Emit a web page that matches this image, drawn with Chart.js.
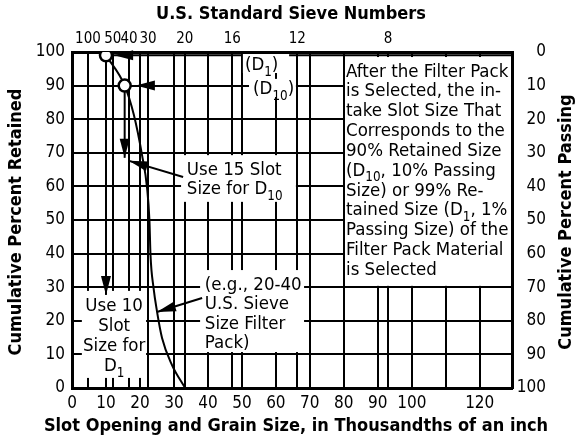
<!DOCTYPE html>
<html>
<head>
<meta charset="utf-8">
<script src="https://cdn.jsdelivr.net/npm/chart.js@4.4.1/dist/chart.umd.min.js"></script>
<style>
  html, body { margin: 0; padding: 0; background: #fff; }
</style>
</head>
<body>
<canvas id="chart" width="577" height="444"></canvas>
<script>
// filter pack grain size curve: slot / grain size (thousandths of an inch) vs cumulative % retained
const grainSize = [10, 15.5, 18.2, 20.6, 22.1, 22.8, 23.1, 24.0, 25.0, 26.5, 29.4, 33.3];
const pctRetained = [99, 90, 81.3, 69.4, 59.5, 49.7, 39.7, 29.8, 22.9, 14.9, 6.9, 0];
// D1 and D10 points on the curve
const markSize = [10, 15.5];
const markRetained = [99, 90];

// bottom axis (slot opening) labels and grid
const slotLabels = [0, 10, 20, 30, 40, 50, 60, 70, 80, 90, 100, 120];
const slotGrid = [0, 10, 20, 30, 40, 50, 60, 70, 80, 90, 100, 110, 120];
// top axis: U.S. standard sieve numbers at their openings
const sieveNumbers = ['100', '50', '40', '30', '20', '16', '12', '8'];
const sieveOpening = [4.7, 12, 16.8, 22.4, 33.2, 47.2, 66.3, 93];
// left = retained, right = passing
const retainedTicks = [0, 10, 20, 30, 40, 50, 60, 70, 80, 90, 100];
const passingTicks = [0, 10, 20, 30, 40, 50, 60, 70, 80, 90, 100];

const FONT = "'DejaVu Sans Condensed', 'DejaVu Sans', sans-serif";
const X_MAX = 129.5;
const xGrid = slotGrid.concat(sieveOpening).sort((a, b) => a - b);

// white label boxes over the grid: box = [x0, x1, yTop, yBottom] in data units, text from (x, y) baseline
const notes = [
  { box: [50.3, 63.9, 99.4, 93.75], x: 50.9, y: 94.6, step: 20, align: 'left', lines: ['(D_{1})'] },
  { box: [52.1, 65.9, 92.0, 86.6], x: 53.3, y: 87.5, step: 20, align: 'left', lines: ['(D_{10})'] },
  { box: [32.1, 65.9, 69.3, 55.4], x: 33.8, y: 63.4, step: 19, align: 'left', lines: ['Use 15 Slot', 'Size for D_{10}'] },
  { box: [2.9, 21.8, 28.9, 3.0], x: 12.4, y: 22.9, step: 20, align: 'center', lines: ['Use 10', 'Slot', 'Size for', 'D_{1}'] },
  { box: [37.7, 68.3, 35.1, 10.7], x: 39.1, y: 29.2, step: 19.5, align: 'left', lines: ['(e.g., 20-40', 'U.S. Sieve', 'Size Filter', 'Pack)'] },
  { box: [80.35, 129.2, 98.5, 30.4], x: 80.65, y: 92.7, step: 19.85, align: 'left', lines: [
    'After the Filter Pack', 'is Selected, the in-', 'take Slot Size That', 'Corresponds to the',
    '90% Retained Size', '(D_{10}, 10% Passing', 'Size) or 99% Re-', 'tained Size (D_{1}, 1%',
    'Passing Size) of the', 'Filter Pack Material', 'is Selected'] }
];

// arrows: from -> to (tip), shaft drawn unless headOnly
const arrows = [
  { from: [30, 99], to: [12.4, 99], headOnly: true },
  { from: [30, 90], to: [18.8, 90], headOnly: true },
  { from: [15.5, 90], to: [15.5, 68.5] },
  { from: [32.7, 62.8], to: [16.8, 67.6] },
  { from: [10, 99], to: [10, 27.7] },
  { from: [38.3, 26.8], to: [25.0, 22.6] }
];

function drawRich(ctx, str, x, y, size, align) {
  const parts = str.split(/(_\{[^}]*\})/).filter(Boolean)
    .map(p => p.startsWith('_{') ? { t: p.slice(2, -1), sub: true } : { t: p, sub: false });
  const fontFor = sub => (sub ? size * 0.72 : size) + 'px ' + FONT;
  let w = 0;
  parts.forEach(p => { ctx.font = fontFor(p.sub); p.w = ctx.measureText(p.t).width; w += p.w; });
  let cx = align === 'center' ? x - w / 2 : x;
  ctx.textAlign = 'left'; ctx.textBaseline = 'alphabetic';
  parts.forEach(p => { ctx.font = fontFor(p.sub); ctx.fillText(p.t, cx, p.sub ? y + size * 0.3 : y); cx += p.w; });
}

function arrowHead(ctx, x0, y0, x1, y1, len, half) {
  const a = Math.atan2(y1 - y0, x1 - x0);
  ctx.beginPath();
  ctx.moveTo(x1, y1);
  ctx.lineTo(x1 - len * Math.cos(a) + half * Math.sin(a), y1 - len * Math.sin(a) - half * Math.cos(a));
  ctx.lineTo(x1 - len * Math.cos(a) - half * Math.sin(a), y1 - len * Math.sin(a) + half * Math.cos(a));
  ctx.closePath();
  ctx.fill();
}

function vTitle(ctx, text, cx, cy) {
  ctx.save();
  ctx.translate(cx, cy); ctx.rotate(-Math.PI / 2);
  ctx.fillText(text, 0, 0);
  ctx.restore();
}

const notesPlugin = {
  id: 'notes',
  beforeDatasetsDraw(chart) {
    const { ctx, scales: { x, y } } = chart;
    ctx.save();
    ctx.strokeStyle = '#000'; ctx.fillStyle = '#000'; ctx.lineWidth = 2;
    // 99 % retained line from D1 point to the right edge
    ctx.beginPath();
    ctx.moveTo(x.getPixelForValue(10), y.getPixelForValue(99));
    ctx.lineTo(x.getPixelForValue(X_MAX), y.getPixelForValue(99));
    ctx.stroke();
    notes.forEach(n => {
      const x0 = x.getPixelForValue(n.box[0]), x1 = x.getPixelForValue(n.box[1]);
      const y0 = y.getPixelForValue(n.box[2]), y1 = y.getPixelForValue(n.box[3]);
      ctx.fillStyle = '#fff';
      ctx.fillRect(x0, y0, x1 - x0, y1 - y0);
      ctx.fillStyle = '#000';
      const tx = x.getPixelForValue(n.x), ty = y.getPixelForValue(n.y);
      n.lines.forEach((l, i) => drawRich(ctx, l, tx, ty + i * n.step, 18.5, n.align));
    });
    arrows.forEach(a => {
      const x0 = x.getPixelForValue(a.from[0]), y0 = y.getPixelForValue(a.from[1]);
      const x1 = x.getPixelForValue(a.to[0]), y1 = y.getPixelForValue(a.to[1]);
      if (!a.headOnly) {
        ctx.beginPath(); ctx.moveTo(x0, y0); ctx.lineTo(x1, y1); ctx.stroke();
      }
      arrowHead(ctx, x0, y0, x1, y1, 19, 5);
    });
    ctx.restore();
  },
  afterDraw(chart) {
    const ctx = chart.ctx;
    ctx.save();
    ctx.fillStyle = '#000';
    ctx.font = 'bold 18px ' + FONT;
    ctx.textAlign = 'center'; ctx.textBaseline = 'middle';
    ctx.fillText('U.S. Standard Sieve Numbers', 291, 14);
    ctx.fillText('Slot Opening and Grain Size, in Thousandths of an inch', 296, 426);
    vTitle(ctx, 'Cumulative Percent Retained', 16, 222);
    vTitle(ctx, 'Cumulative Percent Passing', 566, 222);
    ctx.restore();
  }
};

const tickFont = { family: FONT, size: 17 };
const axisBorder = { color: '#000', width: 3 };

new Chart(document.getElementById('chart'), {
  type: 'scatter',
  data: {
    datasets: [
      { data: markSize.map((v, i) => ({ x: v, y: markRetained[i] })), order: 0, pointRadius: 6, pointHoverRadius: 6,
        pointBackgroundColor: '#fff', pointBorderColor: '#000', pointBorderWidth: 2.5, showLine: false },
      { data: grainSize.map((v, i) => ({ x: v, y: pctRetained[i] })), order: 1, showLine: true,
        borderColor: '#000', borderWidth: 2, pointRadius: 0, cubicInterpolationMode: 'monotone', fill: false }
    ]
  },
  options: {
    responsive: false, animation: false, devicePixelRatio: 1,
    layout: { padding: { left: 0, right: 31, top: 0, bottom: 0 } },
    plugins: { legend: { display: false }, tooltip: { enabled: false } },
    scales: {
      x: {
        type: 'linear', position: 'bottom', min: 0, max: X_MAX,
        afterBuildTicks: s => { s.ticks = xGrid.map(v => ({ value: v })); },
        afterFit: s => { s.height = 56; },
        grid: { color: '#000', lineWidth: 2, drawTicks: false },
        border: axisBorder,
        ticks: { autoSkip: false, maxRotation: 0, padding: 5, color: '#000', font: tickFont,
          callback: v => slotLabels.includes(v) ? String(v) : '' }
      },
      xTop: {
        type: 'linear', position: 'top', min: 0, max: X_MAX,
        afterBuildTicks: s => { s.ticks = sieveOpening.map(v => ({ value: v })); },
        afterFit: s => { s.height = 52; },
        grid: { display: false, drawTicks: false },
        border: axisBorder,
        ticks: { autoSkip: false, maxRotation: 0, padding: 4, color: '#000', font: { family: FONT, size: 15 },
          callback: (v, i) => sieveNumbers[i] }
      },
      y: {
        position: 'left', min: 0, max: 100,
        afterBuildTicks: s => { s.ticks = retainedTicks.map(v => ({ value: v })); },
        afterFit: s => { s.width = 72; },
        grid: { color: '#000', lineWidth: 2, drawTicks: false },
        border: axisBorder,
        ticks: { padding: 7, color: '#000', font: tickFont }
      },
      yR: {
        position: 'right', min: 0, max: 100, reverse: true,
        afterBuildTicks: s => { s.ticks = passingTicks.map(v => ({ value: v })); },
        afterFit: s => { s.width = 34; },
        grid: { display: false, drawTicks: false },
        border: axisBorder,
        ticks: { crossAlign: 'far', color: '#000', font: tickFont }
      }
    }
  },
  plugins: [notesPlugin]
});
</script>
</body>
</html>
